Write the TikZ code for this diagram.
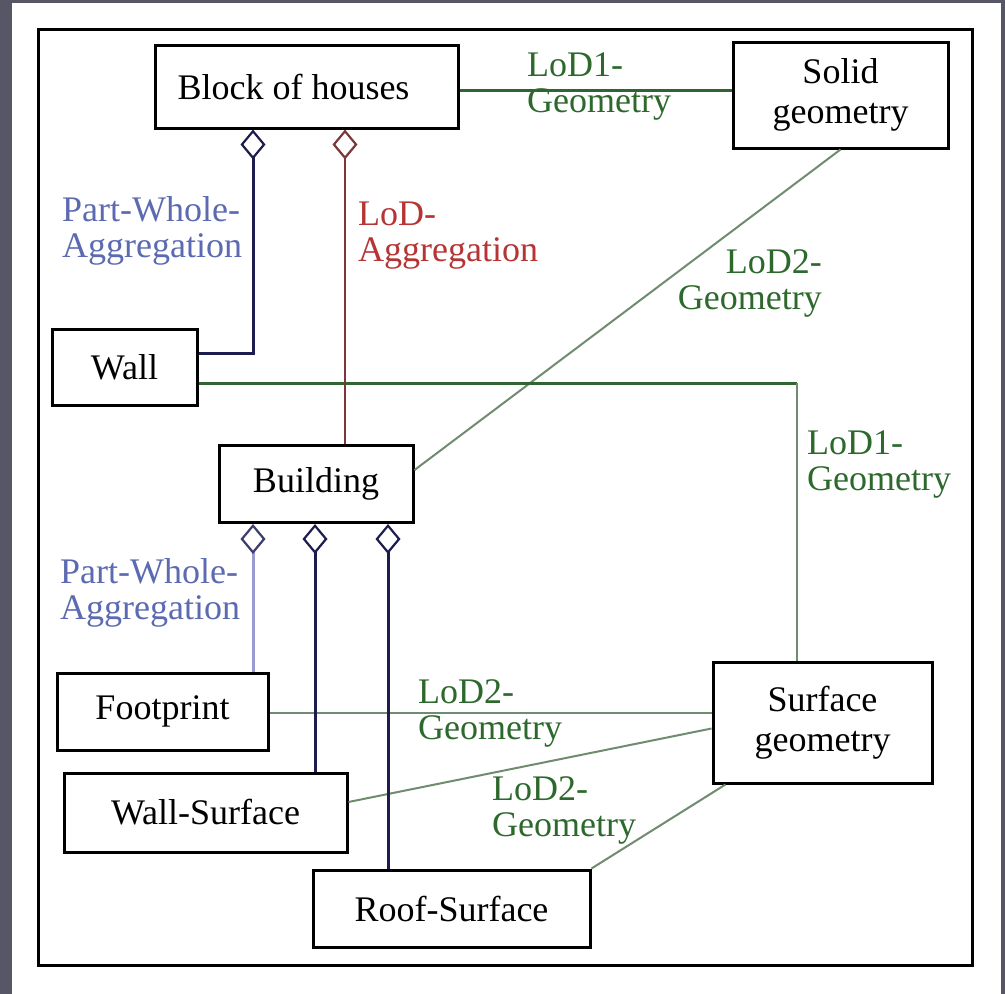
\documentclass[tikz,border=0pt]{standalone}
\usepackage{fontspec}
\setmainfont{Liberation Serif}
\usetikzlibrary{arrows.meta}

\definecolor{pagegray}{RGB}{86,86,102}
\definecolor{navyc}{RGB}{28,28,78}
\definecolor{diaedge}{RGB}{60,60,110}
\definecolor{maroonc}{RGB}{125,55,55}
\definecolor{lightnavy}{RGB}{155,155,212}
\definecolor{darkgreen}{RGB}{48,100,48}
\definecolor{softgreen}{RGB}{112,140,112}
\definecolor{greentext}{RGB}{45,105,45}
\definecolor{bluetext}{RGB}{92,106,178}
\definecolor{redtext}{RGB}{182,52,52}

\begin{document}
\begin{tikzpicture}[x=1pt,y=-1pt,
  box/.style={draw=black, line width=3pt, fill=white, inner sep=0pt,
    align=center, font=\fontsize{36}{40}\selectfont},
  lbl/.style={inner sep=0pt, font=\fontsize{36}{36}\selectfont},
  dia/.style={{Diamond[open,length=30pt,width=25pt,line width=2.2pt,color=#1]}-},
  navyline/.style={draw=navyc, line width=3pt},
  maroonline/.style={draw=maroonc, line width=2.5pt},
  lightline/.style={draw=lightnavy, line width=3pt},
  greenline/.style={draw=darkgreen, line width=3pt},
  thingreen/.style={draw=softgreen, line width=2pt}
]
% page and frame
\fill[pagegray] (0,0) rectangle (1005,994);
\fill[white] (12,3) rectangle (1001,994);
\draw[line width=3pt] (38.5,29.5) rectangle (972,965);
\useasboundingbox (0,0) rectangle (1005,994);

% classes
\node[box, minimum width=303pt, minimum height=83pt] (block) at (306.5,86.5) {\hspace*{-26pt}Block of houses};
\node[box, minimum width=215pt, minimum height=106pt] (solid) at (840.5,95) {Solid\\geometry};
\node[box, minimum width=145pt, minimum height=76pt] (wall) at (124.5,367) {Wall};
\node[box, minimum width=194pt, minimum height=77pt] (building) at (316,484) {Building};
\node[box, minimum width=211pt, minimum height=77pt] (footprint) at (162.5,711.5) {Footprint};
\node[box, minimum width=283pt, minimum height=79pt] (wallsurf) at (205.5,812.5) {Wall-Surface};
\node[box, minimum width=277pt, minimum height=77pt] (roof) at (451.5,908.5) {Roof-Surface};
\node[box, minimum width=219pt, minimum height=121pt] (surf) at (822.5,722.5) {Surface\\geometry};

% geometry associations
\draw[greenline] ([yshift=-3.5pt]block.east) -- ([yshift=-3.5pt]block.east -| solid.west);
\draw[thingreen] (solid.south) -- ([yshift=14pt]building.east);
\coordinate (wallcorner) at ([xshift=-25.5pt,yshift=-16pt]surf.north |- wall.east);
\draw[greenline] ([yshift=-16pt]wall.east) -- (wallcorner);
\draw[thingreen] (wallcorner) -- ([xshift=-25.5pt]surf.north);
\draw[thingreen] ([yshift=-1.5pt]footprint.east) -- ([yshift=-1.5pt]footprint.east -| surf.west);
\draw[thingreen] ([yshift=10.5pt]wallsurf.east) -- ([yshift=-6pt]surf.west);
\draw[thingreen] (roof.north east) -- ([xshift=14pt]surf.south west);

% aggregations
\draw[navyline, dia=navyc] ([xshift=-53.5pt]block.south) |- ([yshift=14pt]wall.east);
\draw[maroonline, dia=maroonc] ([xshift=38.5pt]block.south) -- ([xshift=38.5pt]block.south |- building.north);
\draw[lightline, dia=diaedge] ([xshift=-63pt]building.south) -- ([xshift=-63pt]building.south |- footprint.north);
\draw[navyline, dia=navyc] ([xshift=-1pt]building.south) -- ([xshift=-1pt]building.south |- wallsurf.north);
\draw[navyline, dia=navyc] ([xshift=72pt]building.south) -- ([xshift=72pt]building.south |- roof.north);

% association labels
\node[lbl, text=greentext, align=left, anchor=north west] (lodA) at (527,53) {LoD1-\\Geometry};
\node[lbl, text=greentext, align=right, anchor=north east] (lodB) at (822,249) {LoD2-\\Geometry};
\node[lbl, text=greentext, align=left, anchor=north west] (lodC) at (807,431) {LoD1-\\Geometry};
\node[lbl, text=greentext, align=left, anchor=north west] (lodD) at (418,679) {LoD2-\\Geometry};
\node[lbl, text=greentext, align=left, anchor=north west] (lodE) at (492,776) {LoD2-\\Geometry};
\node[lbl, text=bluetext, align=left, anchor=north west] (pwA) at (62,196) {Part-Whole-\\Aggregation};
\node[lbl, text=redtext, align=left, anchor=north west] (lodagg) at (358,202) {LoD-\\Aggregation};
\node[lbl, text=bluetext, align=left, anchor=north west] (pwB) at (60,558) {Part-Whole-\\Aggregation};
\end{tikzpicture}
\end{document}
